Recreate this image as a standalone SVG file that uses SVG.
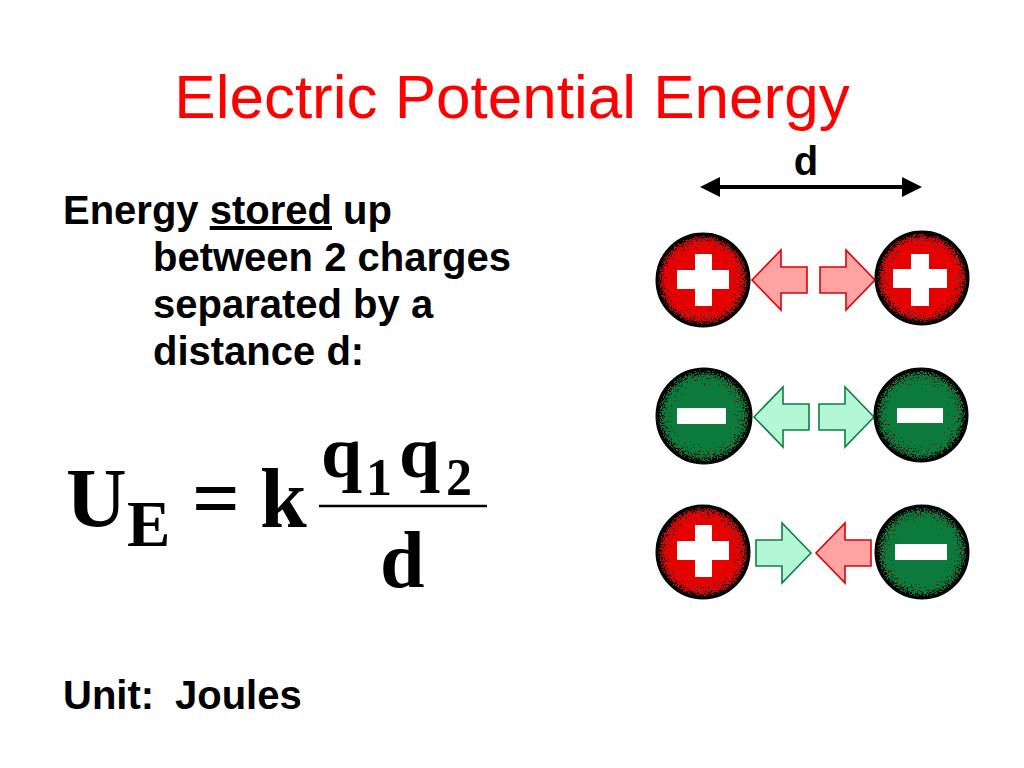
<svg xmlns="http://www.w3.org/2000/svg" width="1024" height="768" viewBox="0 0 1024 768">
<style>
.title{font-family:"Liberation Sans",Arial,sans-serif;font-size:62px;fill:#ff0000;}
.body{font-family:"Liberation Sans",Arial,sans-serif;font-size:40px;font-weight:bold;fill:#000;}
.eq{font-family:"Liberation Serif","Times New Roman",serif;font-weight:bold;fill:#000;}
.red{fill:#e60000;stroke:#000;stroke-width:3;}
.green{fill:#0b7a3b;stroke:#000;stroke-width:3;}
.stip{fill:url(#rg);filter:url(#stipple);}
.sign{fill:#fff;}
.arrRed{fill:#ffa3a3;stroke:#e00000;stroke-width:1.6;stroke-linejoin:miter;}
.arrGreen{fill:#b3f7d6;stroke:#0b8040;stroke-width:1.6;stroke-linejoin:miter;}
</style>
<defs>
<radialGradient id="rg" cx="0.5" cy="0.5" r="0.5">
<stop offset="0" stop-color="#000"/>
<stop offset="0.5" stop-color="#000"/>
<stop offset="0.85" stop-color="#8c8c8c"/>
<stop offset="1" stop-color="#fff"/>
</radialGradient>
<filter id="stipple" x="-5%" y="-5%" width="110%" height="110%" color-interpolation-filters="sRGB">
<feTurbulence type="fractalNoise" baseFrequency="0.7" numOctaves="1" seed="7" result="n"/>
<feColorMatrix in="n" type="matrix" values="1 0 0 0 0  1 0 0 0 0  1 0 0 0 0  0 0 0 0 1" result="ng"/>
<feComposite in="ng" in2="SourceGraphic" operator="arithmetic" k1="0" k2="1" k3="0.5" k4="-0.5" result="v"/>
<feColorMatrix in="v" type="matrix" values="0 0 0 0 0  0 0 0 0 0  0 0 0 0 0  12 0 0 0 -3.9" result="d"/>
<feComposite in="d" in2="SourceAlpha" operator="in"/>
</filter>
<path id="arrow" d="M0,0 L-29,-30 L-29,-13 L-55,-13 L-55,13 L-29,13 L-29,30 Z"/>
<marker id="head" viewBox="0 0 20 20" refX="10" refY="10" markerWidth="20" markerHeight="20" markerUnits="userSpaceOnUse" orient="auto-start-reverse">
<path d="M0,0 L20,10 L0,20 Z" fill="#000"/>
</marker>
</defs>
<rect width="1024" height="768" fill="#fff"/>

<g id="title"><text class="title" x="512" y="118" text-anchor="middle">Electric Potential Energy</text></g>

<g id="description">
<text class="body" x="63" y="224">Energy <tspan text-decoration="underline">stored</tspan> up</text>
<text class="body" x="153" y="271">between 2 charges</text>
<text class="body" x="153" y="318">separated by a</text>
<text class="body" x="153" y="365">distance d:</text>
</g>

<g id="equation">
<text class="eq" x="66" y="527" font-size="84">U</text>
<text class="eq" x="127" y="546" font-size="65">E</text>
<text class="eq" x="192" y="527" font-size="84">=</text>
<text class="eq" x="260" y="527" font-size="84">k</text>
<text class="eq" x="321" y="477" font-size="74">q</text>
<text class="eq" x="366" y="495" font-size="52">1</text>
<text class="eq" x="399" y="477" font-size="74">q</text>
<text class="eq" x="446" y="495" font-size="52">2</text>
<line x1="319" y1="506" x2="487" y2="506" stroke="#000" stroke-width="2.5"/>
<text class="eq" x="380" y="587" font-size="80">d</text>
</g>

<g id="unit"><text class="body" x="63" y="709">Unit:<tspan x="175">Joules</tspan></text></g>

<g id="connectors">
<line x1="710" y1="187" x2="912" y2="187" stroke="#000" stroke-width="4" marker-start="url(#head)" marker-end="url(#head)"/>
<text class="body" x="806" y="175" text-anchor="middle" font-size="30">d</text>
<use href="#arrow" class="arrRed" transform="translate(752,280) scale(-1,1)"/>
<use href="#arrow" class="arrRed" transform="translate(875,280)"/>
<use href="#arrow" class="arrGreen" transform="translate(754,417) scale(-1,1)"/>
<use href="#arrow" class="arrGreen" transform="translate(874,417)"/>
<use href="#arrow" class="arrGreen" transform="translate(811,553)"/>
<use href="#arrow" class="arrRed" transform="translate(816,553) scale(-1,1)"/>
</g>

<g id="charge-1">
<circle class="red" cx="703" cy="280" r="46"/>
<circle class="stip" cx="703" cy="280" r="46"/>
<rect class="sign" x="677" y="270" width="52" height="19"/>
<rect class="sign" x="695" y="254" width="17" height="52"/>
</g>
<g id="charge-2">
<circle class="red" cx="922" cy="278" r="46"/>
<circle class="stip" cx="922" cy="278" r="46"/>
<rect class="sign" x="893" y="269" width="54" height="19"/>
<rect class="sign" x="911" y="254" width="18" height="52"/>
</g>
<g id="charge-3">
<circle class="green" cx="704" cy="416" r="47"/>
<circle class="stip" cx="704" cy="416" r="47"/>
<rect class="sign" x="677" y="408" width="49" height="16"/>
</g>
<g id="charge-4">
<circle class="green" cx="921" cy="415" r="46"/>
<circle class="stip" cx="921" cy="415" r="46"/>
<rect class="sign" x="897" y="408" width="46" height="15"/>
</g>
<g id="charge-5">
<circle class="red" cx="703" cy="552" r="46"/>
<circle class="stip" cx="703" cy="552" r="46"/>
<rect class="sign" x="677" y="541" width="52" height="19"/>
<rect class="sign" x="695" y="525" width="17" height="52"/>
</g>
<g id="charge-6">
<circle class="green" cx="922" cy="552" r="46"/>
<circle class="stip" cx="922" cy="552" r="46"/>
<rect class="sign" x="895" y="544" width="52" height="16"/>
</g>
</svg>
